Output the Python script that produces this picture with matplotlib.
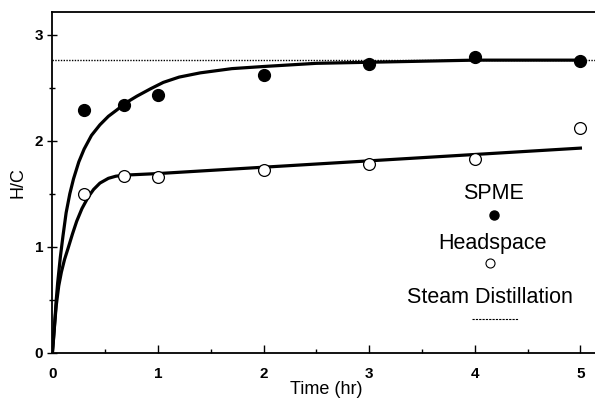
import matplotlib
matplotlib.use("Agg")
import matplotlib.pyplot as plt
from matplotlib.ticker import MultipleLocator

plt.rcParams['font.family'] = ['Liberation Sans', 'DejaVu Sans']

# measured points
time_pts = [0.3, 0.68, 1.0, 2.0, 3.0, 4.0, 5.0]
spme_pts = [2.29, 2.34, 2.43, 2.62, 2.72, 2.79, 2.75]
head_pts = [1.50, 1.67, 1.66, 1.72, 1.78, 1.83, 2.12]

# fitted curves
spme_t = [0, 0.005, 0.01, 0.02, 0.035, 0.05, 0.075, 0.1, 0.13, 0.165, 0.2, 0.25, 0.3, 0.37,
          0.45, 0.53, 0.61, 0.7, 0.8, 0.93, 1.05, 1.2, 1.4, 1.7, 2.0, 2.5, 3.0, 4.0, 5.0]
spme_fit = [0, 0.06, 0.12, 0.25, 0.48, 0.66, 0.9, 1.1, 1.32, 1.5, 1.64, 1.8, 1.92, 2.05,
            2.15, 2.23, 2.29, 2.36, 2.42, 2.49, 2.55, 2.6, 2.64, 2.68, 2.7, 2.73, 2.74, 2.76, 2.76]
head_t = [0, 0.005, 0.01, 0.02, 0.037, 0.06, 0.085, 0.115, 0.15, 0.19, 0.23, 0.28, 0.34,
          0.39, 0.45, 0.53, 0.6, 0.68, 1.0, 2.0, 3.0, 4.0, 5.0]
head_fit = [0, 0.06, 0.13, 0.26, 0.45, 0.63, 0.76, 0.88, 0.99, 1.12, 1.24, 1.36, 1.47,
            1.54, 1.6, 1.645, 1.665, 1.675, 1.69, 1.75, 1.81, 1.87, 1.93]

steam_level = 2.76

fig = plt.figure(figsize=(5.95, 3.98), dpi=100)
ax = fig.add_axes([52.4 / 595, 45.3 / 398, (600 - 52.4) / 595, 340.7 / 398])

ax.axhline(steam_level, color='black', lw=1.0, ls=(0, (1, 1)), zorder=1)
ax.plot(spme_t, spme_fit, color='black', lw=2.3, zorder=2, solid_joinstyle='round')
ax.plot(head_t, head_fit, color='black', lw=2.3, zorder=2, solid_joinstyle='round')
ax.plot(time_pts, spme_pts, 'o', color='black', ms=8.5, zorder=3)
ax.plot(time_pts, head_pts, 'o', mfc='white', mec='black', mew=0.9, ms=8.5, zorder=3)

# legend drawn as text, like the original
ax.text(4.18, 1.50, 'SPME', ha='center', va='center', fontsize=15.5)
ax.plot([4.18], [1.30], 'o', color='black', ms=6.5)
ax.text(4.17, 1.03, 'Headspace', ha='center', va='center', fontsize=15.5)
ax.plot([4.14], [0.85], 'o', mfc='white', mec='black', mew=0.8, ms=6.5)
ax.text(4.14, 0.52, 'Steam Distillation', ha='center', va='center', fontsize=15.5)
ax.plot([3.97, 4.41], [0.32, 0.32], color='black', lw=0.8, ls=(0, (2, 1)))

ax.set_xlim(0, (600 - 52.4) / 105.6)
ax.set_ylim(0, 340.7 / 106)
ax.xaxis.set_major_locator(MultipleLocator(1))
ax.xaxis.set_minor_locator(MultipleLocator(0.5))
ax.yaxis.set_major_locator(MultipleLocator(1))
ax.yaxis.set_minor_locator(MultipleLocator(0.5))
ax.tick_params(axis='x', which='both', direction='in', labelsize=11, pad=10)
ax.tick_params(axis='x', which='major', length=6, width=1)
ax.tick_params(axis='x', which='minor', length=3, width=1)
ax.tick_params(axis='y', which='both', direction='inout', labelsize=11, pad=3)
ax.tick_params(axis='y', which='major', length=7, width=1)
ax.tick_params(axis='y', which='minor', length=4, width=1)
for lab in ax.get_xticklabels() + ax.get_yticklabels():
    lab.set_fontweight('bold')

for s in ['left', 'bottom', 'top']:
    ax.spines[s].set_linewidth(1.3)
ax.spines['right'].set_visible(False)

ax.set_xlabel('Time (hr)', fontsize=13, labelpad=0)
ax.set_ylabel('H/C', fontsize=13, labelpad=6)

fig.savefig('out.png', dpi=100)
